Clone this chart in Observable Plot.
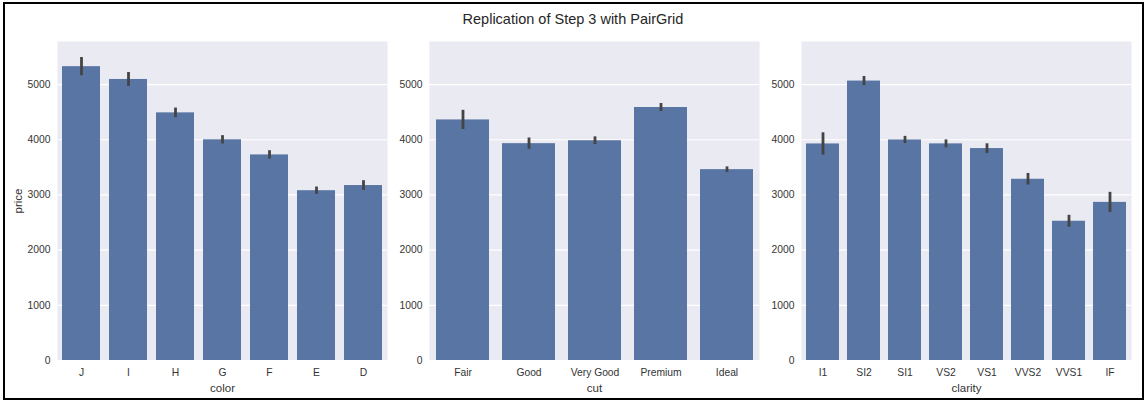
<!DOCTYPE html>
<html>
<head>
<meta charset="utf-8">
<script src="https://cdn.jsdelivr.net/npm/d3@7"></script>
<script src="https://cdn.jsdelivr.net/npm/@observablehq/plot@0.6"></script>
<style>
  body { margin: 0; background: #fff; font-family: "Liberation Sans", Arial, sans-serif; }
  #root { position: relative; width: 1146px; height: 402px; overflow: hidden; }
  #frame { position: absolute; left: 3px; top: 2px; width: 1137px; height: 394px; border: 2.5px solid #000; }
  #title { position: absolute; left: 0; width: 1146px; top: 11px; text-align: center; font-size: 14.5px; color: #262626; }
  .panel { position: absolute; top: 0; }
</style>
</head>
<body>
<div id="root">
  <div id="frame"></div>
  <div id="title">Replication of Step 3 with PairGrid</div>
  <div class="panel" id="p1" style="left:0px"></div>
  <div class="panel" id="p2" style="left:372px"></div>
  <div class="panel" id="p3" style="left:744px"></div>
</div>
<script>
const colorCats = ["J", "I", "H", "G", "F", "E", "D"];
const colorMean = [5324, 5092, 4487, 3999, 3725, 3077, 3170];
const colorLo   = [5160, 4966, 4400, 3924, 3649, 3011, 3082];
const colorHi   = [5490, 5218, 4574, 4074, 3801, 3143, 3258];

const cutCats = ["Fair", "Good", "Very Good", "Premium", "Ideal"];
const cutMean = [4359, 3929, 3982, 4584, 3458];
const cutLo   = [4185, 3826, 3912, 4511, 3407];
const cutHi   = [4533, 4032, 4052, 4657, 3508];

const clarityCats = ["I1", "SI2", "SI1", "VS2", "VS1", "VVS2", "VVS1", "IF"];
const clarityMean = [3924, 5063, 3996, 3925, 3840, 3284, 2523, 2865];
const clarityLo   = [3722, 4981, 3931, 3853, 3752, 3179, 2415, 2683];
const clarityHi   = [4126, 5145, 4061, 3997, 3926, 3389, 2631, 3047];

const yTicks = [0, 1000, 2000, 3000, 4000, 5000];
const yMax = 5780;

function panel(el, cats, means, lo, hi, xlabel, ylabel) {
  const data = cats.map((c, i) => ({cat: c, price: means[i], lo: lo[i], hi: hi[i]}));
  const marks = [
    Plot.frame({fill: "#EAEAF2", stroke: null}),
    Plot.gridY(yTicks, {stroke: "#fff", strokeOpacity: 1, strokeWidth: 1.2}),
    Plot.barY(data, {x: "cat", y: "price", fill: "#5975a4"}),
    Plot.ruleX(data, {x: "cat", y1: "lo", y2: "hi", stroke: "#444", strokeWidth: 2.8}),
    Plot.axisY(yTicks, {tickSize: 0, tickPadding: 7, tickFormat: d3.format("d"), label: null, fontSize: 10.3}),
    Plot.axisX({tickSize: 0, tickPadding: 8, label: null, fontSize: 10.3}),
    Plot.axisX([], {label: xlabel, labelAnchor: "center", labelArrow: "none", labelOffset: 31, fontSize: 11.5})
  ];
  if (ylabel) marks.push(Plot.axisY([], {label: ylabel, labelAnchor: "center", labelArrow: "none", labelOffset: 44, fontSize: 11.5}));
  const chart = Plot.plot({
    width: 392,
    height: 402,
    marginLeft: 57,
    marginRight: 5,
    marginTop: 41,
    marginBottom: 42,
    style: {fontFamily: '"Liberation Sans", Arial, sans-serif', fontSize: "10px", color: "#333", background: "transparent"},
    x: {type: "band", domain: cats, paddingInner: 0.2, paddingOuter: 0.1},
    y: {domain: [0, yMax]},
    marks
  });
  document.getElementById(el).appendChild(chart);
}

panel("p1", colorCats, colorMean, colorLo, colorHi, "color", "price");
panel("p2", cutCats, cutMean, cutLo, cutHi, "cut", null);
panel("p3", clarityCats, clarityMean, clarityLo, clarityHi, "clarity", null);
</script>
</body>
</html>
